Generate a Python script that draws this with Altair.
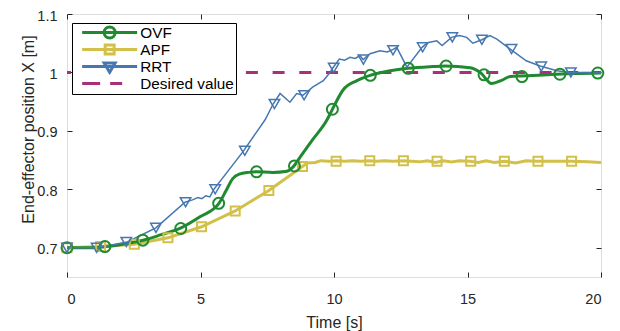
import altair as alt
import pandas as pd

# ---------------- data ----------------
series = ["OVF", "APF", "RRT", "Desired value"]
colors = ["#1f8a2f", "#d3c04a", "#4677b1", "#a8307a"]
x_ticks = [0, 5, 10, 15, 20]
y_ticks = [0.7, 0.8, 0.9, 1.0, 1.1]

ovf_t = [0, 1.0, 1.46, 2.2, 2.85, 3.5, 4.27, 4.98, 5.69, 5.95, 6.2, 6.45, 6.8, 7.1,
         7.7, 8.24, 8.46, 8.73, 9.2, 9.74, 9.93, 10.34, 10.86, 11.35, 12.0, 12.77,
         13.7, 14.16, 15.1, 15.5, 15.9, 16.3, 16.6, 17.0, 18.0, 19.0, 20.0]
ovf_v = [0.700, 0.700, 0.702, 0.707, 0.713, 0.722, 0.734, 0.753, 0.776, 0.797, 0.818,
         0.826, 0.829, 0.830, 0.829, 0.831, 0.838, 0.855, 0.885, 0.919, 0.936, 0.970,
         0.986, 0.995, 1.002, 1.007, 1.010, 1.011, 1.008, 0.999, 0.981, 0.987, 0.993,
         0.994, 0.996, 0.998, 0.999]
ovf_mt = [0, 1.42, 2.84, 4.26, 5.68, 7.1, 8.52, 9.94, 11.36, 12.78, 14.2, 15.62,
          17.04, 18.46, 19.88]
ovf_mv = [0.700, 0.702, 0.713, 0.733, 0.776, 0.830, 0.840, 0.937, 0.995, 1.007,
          1.011, 0.996, 0.993, 0.997, 0.999]

apf_t = [0, 1.26, 2.52, 3.78, 5.04, 6.3, 7.56, 8.82, 9.0, 9.3, 9.5, 9.8, 10.1, 10.4,
         10.7, 11.0, 11.3, 11.6, 11.9, 12.2, 12.6, 12.9, 13.2, 13.5, 13.8, 14.1, 14.4,
         14.7, 15.1, 15.4, 15.7, 16.0, 16.4, 16.8, 17.2, 17.6, 18.2, 18.9, 19.5, 20.0]
apf_v = [0.700, 0.702, 0.706, 0.717, 0.736, 0.763, 0.798, 0.839, 0.845, 0.846, 0.849,
         0.848, 0.849, 0.848, 0.849, 0.848, 0.849, 0.848, 0.849, 0.848, 0.849, 0.848,
         0.847, 0.849, 0.846, 0.849, 0.847, 0.849, 0.848, 0.846, 0.849, 0.846, 0.848,
         0.845, 0.849, 0.848, 0.848, 0.848, 0.847, 0.846]
apf_mt = [0, 1.26, 2.52, 3.78, 5.04, 6.3, 7.56, 8.82, 10.08, 11.34, 12.6, 13.86,
          15.12, 16.38, 17.64, 18.9]
apf_mv = [0.700, 0.702, 0.706, 0.717, 0.736, 0.763, 0.798, 0.839, 0.848, 0.849,
          0.849, 0.848, 0.848, 0.848, 0.848, 0.848]

rrt_t = [0, 1.12, 2.25, 3.33, 4.42, 4.7, 4.9, 5.05, 5.2, 5.35, 5.5, 6.6, 7.42, 7.72,
         7.98, 8.35, 8.6, 8.84, 9.2, 9.6, 9.85, 9.96, 10.2, 10.4, 10.6, 10.8, 10.97,
         11.09, 11.35, 11.72, 12.0, 12.2, 12.35, 12.73, 13.3, 13.5, 13.85, 14.05, 14.4,
         14.7, 14.97, 15.2, 15.54, 15.84, 16.1, 16.6, 17.2, 17.72, 18.35, 18.84, 19.4,
         20.0]
rrt_v = [0.700, 0.700, 0.710, 0.734, 0.778, 0.782, 0.786, 0.784, 0.789, 0.787, 0.800,
         0.865, 0.919, 0.946, 0.964, 0.949, 0.964, 0.961, 0.975, 0.986, 1.000, 1.008,
         1.023, 1.021, 1.026, 1.024, 1.029, 1.022, 1.032, 1.037, 1.035, 1.039, 1.043,
         1.009, 1.043, 1.051, 1.054, 1.046, 1.060, 1.063, 1.060, 1.050, 1.056, 1.063,
         1.057, 1.040, 1.020, 1.011, 1.003, 1.000, 1.000, 0.999]
rrt_mt = [0, 1.11, 2.22, 3.33, 4.44, 5.55, 6.66, 7.77, 8.88, 9.99, 11.1, 12.21,
          13.32, 14.43, 15.54, 16.65, 17.76, 18.87]
rrt_mv = [0.700, 0.700, 0.710, 0.734, 0.778, 0.800, 0.866, 0.946, 0.961, 1.008,
          1.022, 1.038, 1.043, 1.060, 1.056, 1.040, 1.010, 1.000]

desired_t = [0, 20]
desired_v = [1.0, 1.0]

# legend glyphs (line + marker), unit = 4 px
legend_paths = [
    "M0.125,0H13.875M8.375,0A1.375,1.375,0,1,1,5.625,0A1.375,1.375,0,1,1,8.375,0Z",
    "M0.125,0H13.875M5.875,-1.125H8.125V1.125H5.875Z",
    "M0.125,0H13.875M5.625,-0.9H8.375L7,1.45Z",
    "M0.125,0H4.625M7.125,0H10.125",
]

FONT = "Liberation Sans"
AX = "#262626"


def frame(t, v, name):
    return pd.DataFrame({"t": t, "v": v, "series": name})


xs = alt.Scale(domain=[0, 20], nice=False, zero=False)
ys = alt.Scale(domain=[0.65, 1.1], nice=False, zero=False)
Xn = alt.X("t:Q", scale=xs, axis=None)
Yn = alt.Y("v:Q", scale=ys, axis=None)

common_axis = dict(domain=False, grid=False, tickSize=5, offset=-5, tickColor=AX,
                   tickWidth=1, labelColor=AX, labelFont=FONT, labelFontSize=14.5,
                   titleFont=FONT, titleFontSize=16, titleFontWeight="normal",
                   titleColor=AX)

x_bottom = alt.Axis(orient="bottom", values=x_ticks, labelPadding=15, title="Time [s]",
                    titleY=55.5, titleBaseline="alphabetic", format="d", **common_axis)
y_left = alt.Axis(orient="left", values=y_ticks, labelPadding=10, labelOffset=2,
                  title="End-effector position X [m]", titleX=-38.5, titleY=115,
                  titleBaseline="alphabetic", format="~g", **common_axis)
x_top = alt.Axis(orient="top", values=x_ticks, labels=False, title=None, **common_axis)
y_right = alt.Axis(orient="right", values=y_ticks, labels=False, title=None, **common_axis)

desired = alt.Chart(frame(desired_t, desired_v, "Desired value")).mark_line(
    color=colors[3], strokeWidth=3, strokeDash=[12, 14.7], strokeDashOffset=8
).encode(x=alt.X("t:Q", scale=xs, axis=x_bottom), y=alt.Y("v:Q", scale=ys, axis=y_left))

apf_line = alt.Chart(frame(apf_t, apf_v, "APF")).mark_line(
    color=colors[1], strokeWidth=3).encode(x=Xn, y=Yn)
ovf_line = alt.Chart(frame(ovf_t, ovf_v, "OVF")).mark_line(
    color=colors[0], strokeWidth=3, interpolate="monotone").encode(x=Xn, y=Yn)
rrt_line = alt.Chart(frame(rrt_t, rrt_v, "RRT")).mark_line(
    color=colors[2], strokeWidth=1.5).encode(x=Xn, y=Yn)

apf_pts = alt.Chart(frame(apf_mt, apf_mv, "APF")).mark_point(
    shape="square", size=81, filled=False, strokeWidth=2, opacity=1, color=colors[1]
).encode(x=Xn, y=Yn)
ovf_pts = alt.Chart(frame(ovf_mt, ovf_mv, "OVF")).mark_point(
    shape="circle", size=121, filled=False, strokeWidth=2, opacity=1, color=colors[0]
).encode(x=Xn, y=Yn)
rrt_pts = alt.Chart(frame(rrt_mt, rrt_mv, "RRT")).mark_point(
    shape="triangle-down", size=110, filled=False, strokeWidth=1.5, opacity=1,
    color=colors[2]
).encode(x=Xn, y=Yn)

legend_props = dict(orient="none", legendX=5, legendY=9, title=None, padding=2,
                    rowPadding=1, symbolSize=64, symbolStrokeWidth=3, symbolOpacity=1,
                    symbolFillColor="transparent", labelOffset=51, labelFontSize=15.3,
                    labelFont=FONT, labelColor="#000000", strokeColor="#000000",
                    fillColor="#ffffff", labelLimit=0, clipHeight=15)

legend_layer = alt.Chart(pd.DataFrame({"t": [0.0] * 4, "v": [0.7] * 4,
                                       "series": series})).mark_point(
    filled=False, opacity=0, strokeWidth=3
).encode(
    x=alt.X("t:Q", scale=xs, axis=x_top),
    y=alt.Y("v:Q", scale=ys, axis=y_right),
    color=alt.Color("series:N", scale=alt.Scale(domain=series, range=colors),
                    legend=alt.Legend(**legend_props)),
    shape=alt.Shape("series:N", scale=alt.Scale(domain=series, range=legend_paths),
                    legend=alt.Legend(**legend_props)),
)

chart = alt.layer(
    desired, apf_line, ovf_line, rrt_line, apf_pts, ovf_pts, rrt_pts, legend_layer
).resolve_axis(x="independent", y="independent").properties(
    width=534, height=263,
    autosize=alt.AutoSizeParams(type="none"),
    padding={"left": 59, "top": 6, "right": 10, "bottom": 54},
).configure_view(stroke=AX, strokeWidth=1).configure(background="white")

chart.save("out.html", embed_options={"renderer": "svg", "actions": False})
